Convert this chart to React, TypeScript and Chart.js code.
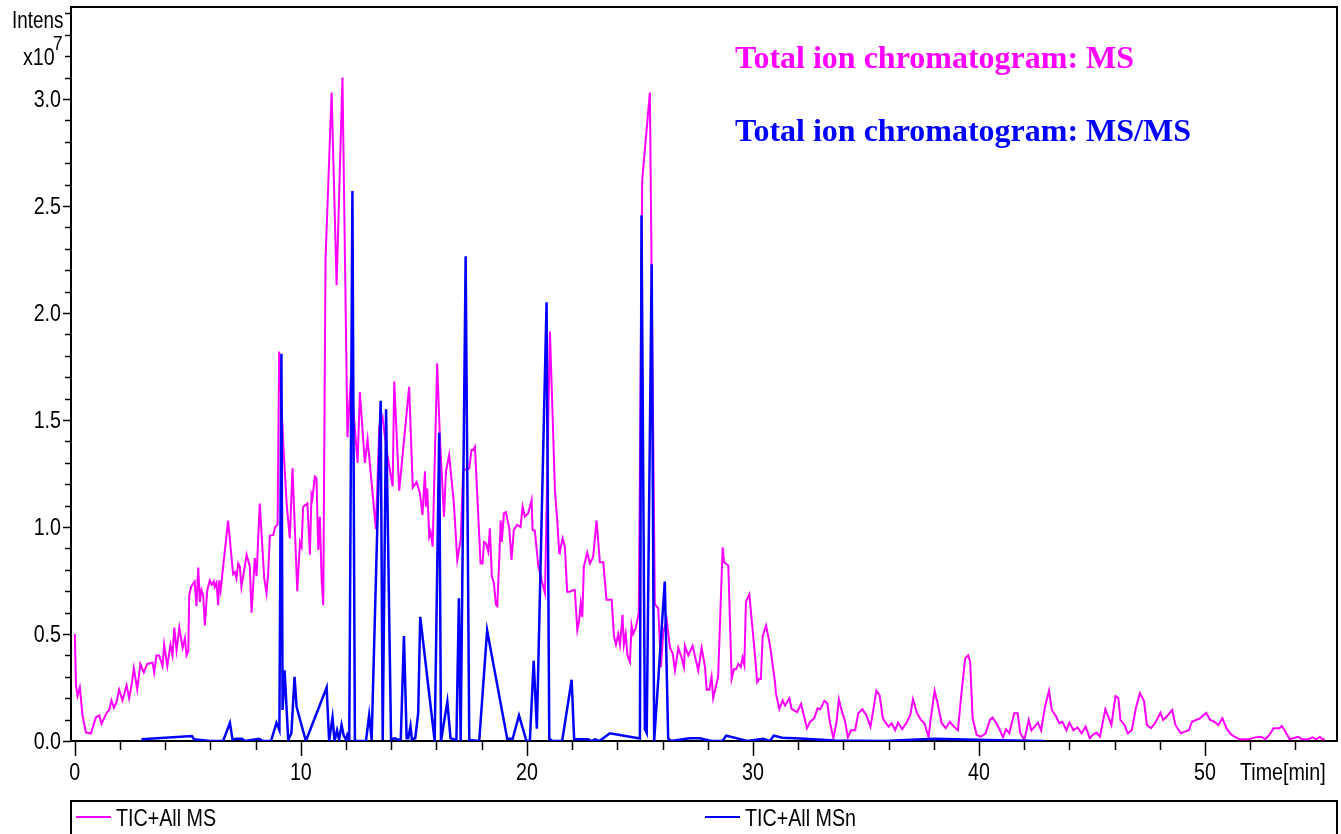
import React, { useEffect, useRef } from "react";
import { Chart, registerables } from "chart.js";

Chart.register(...registerables);

// ---- tick labels / texts ----
const X_MAJOR = [0, 10, 20, 30, 40, 50];
const Y_MAJOR = [0, 0.5, 1.0, 1.5, 2.0, 2.5, 3.0];
const SERIES_LABELS = ["TIC+All MS", "TIC+All MSn"];
const TITLES = ["Total ion chromatogram: MS", "Total ion chromatogram: MS/MS"];
const Y_LABEL = "Intens";
const Y_EXP_BASE = "x10";
const Y_EXP = "7";
const X_LABEL = "Time[min]";

// ---- series: [time (min), intensity (x10^7)] ----
const TIC_MS: [number, number][] = [
  [0.0, 0.5], [0.05, 0.26], [0.12, 0.21], [0.22, 0.25], [0.34, 0.12], [0.49, 0.04], [0.71, 0.035],
  [0.93, 0.11], [1.08, 0.12], [1.18, 0.08], [1.4, 0.13], [1.52, 0.145], [1.62, 0.19], [1.73, 0.155],
  [1.84, 0.18], [1.96, 0.24], [2.11, 0.19], [2.29, 0.26], [2.4, 0.2], [2.51, 0.26], [2.61, 0.34],
  [2.76, 0.24], [2.9, 0.36], [3.05, 0.32], [3.2, 0.36], [3.44, 0.366], [3.51, 0.32], [3.61, 0.4],
  [3.73, 0.4], [3.88, 0.35], [3.95, 0.45], [4.09, 0.35], [4.23, 0.45], [4.32, 0.4], [4.4, 0.53],
  [4.5, 0.425], [4.62, 0.53], [4.77, 0.435], [4.87, 0.48], [4.94, 0.4], [5.02, 0.42], [5.06, 0.68],
  [5.14, 0.72], [5.3, 0.745], [5.38, 0.63], [5.46, 0.81], [5.53, 0.65], [5.6, 0.705], [5.68, 0.68],
  [5.75, 0.54], [5.86, 0.705], [5.97, 0.75], [6.06, 0.73], [6.15, 0.745], [6.19, 0.72], [6.27, 0.74],
  [6.34, 0.635], [6.39, 0.75], [6.45, 0.705], [6.78, 1.03], [7.0, 0.78], [7.08, 0.79], [7.15, 0.76],
  [7.23, 0.83], [7.3, 0.815], [7.37, 0.72], [7.6, 0.87], [7.74, 0.815], [7.82, 0.6], [7.96, 0.855],
  [8.04, 0.77], [8.18, 1.11], [8.38, 0.76], [8.48, 0.69], [8.55, 0.78], [8.63, 0.96], [8.78, 0.963],
  [8.86, 1.0], [8.97, 1.01], [9.04, 1.82], [9.22, 1.39], [9.37, 1.11], [9.51, 0.947], [9.63, 1.274],
  [9.84, 0.7], [9.96, 0.93], [10.03, 0.908], [10.1, 1.095], [10.29, 1.11], [10.4, 0.87], [10.47, 1.15],
  [10.51, 1.134], [10.62, 1.235], [10.69, 1.228], [10.77, 0.893], [10.84, 1.048], [10.92, 0.75],
  [10.99, 0.635], [11.09, 2.25], [11.36, 3.03], [11.58, 2.13], [11.84, 3.1], [12.06, 1.42],
  [12.21, 1.695], [12.51, 1.3], [12.61, 1.63], [12.83, 1.3], [12.95, 1.41], [13.32, 0.99],
  [13.47, 1.47], [13.61, 1.515], [13.79, 1.36], [14.06, 1.19], [14.13, 1.68], [14.35, 1.17],
  [14.79, 1.655], [14.95, 1.185], [15.12, 1.21], [15.27, 1.157], [15.38, 1.056], [15.49, 1.26],
  [15.53, 1.095], [15.59, 1.18], [15.68, 0.955], [15.74, 0.978], [15.83, 0.908], [16.03, 1.765],
  [16.15, 1.42], [16.33, 1.048], [16.42, 1.26], [16.56, 1.336], [16.77, 1.11], [16.92, 0.846],
  [17.07, 0.94], [17.18, 1.266], [17.45, 1.274], [17.55, 1.36], [17.62, 1.36], [17.7, 1.375],
  [17.95, 0.83], [18.04, 0.83], [18.1, 0.93], [18.19, 0.924], [18.29, 0.885], [18.36, 0.994],
  [18.45, 0.768], [18.54, 0.737], [18.63, 0.636], [18.69, 0.63], [18.78, 0.86], [18.84, 1.03],
  [18.89, 0.93], [18.98, 1.064], [19.07, 1.07], [19.22, 0.994], [19.32, 0.846], [19.42, 0.986],
  [19.57, 1.01], [19.72, 1.0], [19.81, 1.095], [19.91, 1.048], [20.06, 1.064], [20.21, 1.126],
  [20.25, 0.986], [20.35, 0.983], [20.5, 0.822], [20.65, 0.752], [20.8, 0.69], [21.02, 1.913],
  [21.24, 1.173], [21.34, 1.033], [21.43, 0.877], [21.46, 0.885], [21.58, 0.947], [21.68, 0.908],
  [21.78, 0.698], [21.9, 0.698], [22.02, 0.705], [22.12, 0.705], [22.23, 0.519], [22.31, 0.56],
  [22.38, 0.643], [22.45, 0.58], [22.52, 0.815], [22.67, 0.88], [22.79, 0.83], [22.93, 0.86],
  [23.08, 1.03], [23.23, 0.835], [23.38, 0.835], [23.52, 0.66], [23.75, 0.66], [23.85, 0.49],
  [23.94, 0.45], [24.04, 0.5], [24.12, 0.45], [24.23, 0.59], [24.29, 0.45], [24.37, 0.5],
  [24.45, 0.4], [24.56, 0.37], [24.63, 0.54], [24.7, 0.5], [24.82, 0.53], [24.95, 0.6],
  [25.1, 2.62], [25.44, 3.03], [25.66, 0.64], [25.81, 0.62], [25.93, 0.345], [26.03, 0.505],
  [26.18, 0.57], [26.33, 0.435], [26.45, 0.41], [26.55, 0.33], [26.7, 0.435], [26.84, 0.39],
  [26.95, 0.345], [26.99, 0.445], [27.14, 0.4], [27.33, 0.445], [27.58, 0.33], [27.73, 0.435],
  [27.88, 0.345], [27.95, 0.24], [28.07, 0.24], [28.17, 0.3], [28.24, 0.2], [28.36, 0.255],
  [28.46, 0.3], [28.66, 0.905], [28.72, 0.835], [28.91, 0.82], [29.06, 0.29], [29.16, 0.335],
  [29.25, 0.335], [29.35, 0.36], [29.46, 0.345], [29.54, 0.39], [29.62, 0.355], [29.69, 0.65],
  [29.84, 0.685], [30.04, 0.46], [30.19, 0.275], [30.28, 0.29], [30.35, 0.29], [30.43, 0.49],
  [30.58, 0.54], [30.75, 0.45], [30.97, 0.28], [31.02, 0.22], [31.17, 0.15], [31.31, 0.19],
  [31.42, 0.165], [31.61, 0.2], [31.71, 0.15], [31.95, 0.135], [32.13, 0.173], [32.39, 0.06],
  [32.53, 0.09], [32.71, 0.106], [32.86, 0.153], [32.98, 0.148], [33.16, 0.188], [33.29, 0.176],
  [33.4, 0.09], [33.56, 0.013], [33.7, 0.09], [33.8, 0.195], [33.94, 0.137], [34.07, 0.095],
  [34.2, 0.017], [34.34, 0.05], [34.52, 0.05], [34.66, 0.13], [34.84, 0.148], [35.02, 0.12],
  [35.2, 0.067], [35.33, 0.148], [35.46, 0.235], [35.6, 0.215], [35.75, 0.106], [35.87, 0.086],
  [36.0, 0.067], [36.14, 0.083], [36.29, 0.05], [36.42, 0.086], [36.6, 0.055], [36.78, 0.083],
  [36.96, 0.12], [37.08, 0.195], [37.26, 0.13], [37.44, 0.098], [37.59, 0.083], [37.77, 0.017],
  [37.86, 0.098], [38.04, 0.235], [38.17, 0.176], [38.35, 0.083], [38.53, 0.06], [38.71, 0.09],
  [38.89, 0.067], [39.07, 0.05], [39.21, 0.207], [39.39, 0.386], [39.52, 0.4], [39.61, 0.37],
  [39.72, 0.106], [39.9, 0.028], [40.08, 0.02], [40.3, 0.036], [40.48, 0.098], [40.6, 0.11],
  [40.75, 0.086], [40.93, 0.05], [41.06, 0.017], [41.2, 0.055], [41.34, 0.036], [41.56, 0.13],
  [41.71, 0.13], [41.83, 0.036], [42.01, 0.005], [42.2, 0.098], [42.32, 0.05], [42.46, 0.067],
  [42.61, 0.086], [42.75, 0.05], [42.92, 0.16], [43.1, 0.235], [43.22, 0.145], [43.4, 0.117],
  [43.55, 0.083], [43.69, 0.09], [43.87, 0.05], [44.0, 0.086], [44.18, 0.05], [44.36, 0.064],
  [44.54, 0.036], [44.72, 0.067], [44.9, 0.013], [45.03, 0.028], [45.2, 0.039], [45.35, 0.02],
  [45.59, 0.148], [45.72, 0.114], [45.86, 0.075], [46.04, 0.21], [46.17, 0.2], [46.26, 0.098],
  [46.44, 0.075], [46.58, 0.036], [46.76, 0.05], [46.94, 0.153], [47.12, 0.223], [47.3, 0.188],
  [47.43, 0.075], [47.61, 0.06], [47.79, 0.083], [48.03, 0.132], [48.15, 0.098], [48.33, 0.117],
  [48.55, 0.145], [48.69, 0.075], [48.93, 0.036], [49.11, 0.044], [49.29, 0.05], [49.42, 0.09],
  [49.6, 0.098], [49.78, 0.106], [50.05, 0.132], [50.23, 0.098], [50.41, 0.09], [50.59, 0.075],
  [50.77, 0.106], [50.95, 0.06], [51.13, 0.033], [51.31, 0.02], [51.53, 0.008], [51.95, 0.008],
  [52.21, 0.017], [52.49, 0.02], [52.67, 0.008], [52.85, 0.028], [53.03, 0.06], [53.3, 0.06],
  [53.39, 0.07], [53.52, 0.05], [53.75, 0.008], [54.12, 0.02], [54.3, 0.008], [54.57, 0.008],
  [54.75, 0.017], [54.93, 0.008], [55.08, 0.02], [55.2, 0.008], [55.3, 0.008],
];

const TIC_MSN: [number, number][] = [
  [2.95, 0.008], [5.18, 0.023], [5.27, 0.008], [5.97, 0.0], [6.56, 0.0], [6.86, 0.085], [6.98, 0.005],
  [7.12, 0.01], [7.4, 0.01], [7.52, 0.0], [8.15, 0.01], [8.33, 0.0], [8.68, 0.0], [8.92, 0.085],
  [9.05, 0.05], [9.14, 1.81], [9.19, 0.145], [9.28, 0.33], [9.44, 0.005], [9.58, 0.036], [9.72, 0.3],
  [9.81, 0.16], [10.22, 0.0], [11.14, 0.25], [11.25, 0.0], [11.4, 0.11], [11.49, 0.0], [11.6, 0.05],
  [11.69, 0.005], [11.8, 0.075], [11.9, 0.023], [11.99, 0.008], [12.05, 0.028], [12.14, 0.0],
  [12.28, 2.57], [12.39, 0.0], [12.88, 0.0], [13.02, 0.12], [13.13, 0.005], [13.53, 1.59],
  [13.62, 0.005], [13.77, 1.55], [13.99, 0.008], [14.16, 0.013], [14.31, 0.005], [14.42, 0.008],
  [14.56, 0.49], [14.68, 0.013], [14.75, 0.013], [14.85, 0.07], [14.91, 0.008], [15.06, 0.013],
  [15.19, 0.13], [15.28, 0.58], [15.92, 0.0], [16.12, 1.44], [16.2, 0.0], [16.48, 0.184],
  [16.62, 0.013], [16.8, 0.006], [16.88, 0.0], [16.99, 0.667], [17.07, 0.0], [17.29, 2.265],
  [17.45, 0.005], [17.89, 0.0], [18.24, 0.517], [19.13, 0.01], [19.37, 0.01], [19.65, 0.12],
  [19.98, 0.0], [20.13, 0.0], [20.3, 0.375], [20.44, 0.057], [20.87, 2.05], [20.99, 0.01],
  [21.14, 0.0], [21.56, 0.0], [21.98, 0.286], [22.09, 0.008], [22.71, 0.008], [22.86, 0.0],
  [23.01, 0.008], [23.21, 0.0], [23.67, 0.036], [25.0, 0.012], [25.07, 2.457], [25.22, 0.055],
  [25.3, 0.037], [25.52, 2.228], [25.63, 0.0], [26.1, 0.745], [26.25, 0.012], [26.37, 0.0],
  [27.21, 0.013], [27.65, 0.013], [28.17, 0.0], [28.65, 0.0], [28.82, 0.025], [29.75, 0.0],
  [30.45, 0.01], [30.75, 0.0], [30.92, 0.025], [31.3, 0.015], [32.08, 0.012], [33.6, 0.002],
  [35.78, 0.0], [38.04, 0.011], [40.3, 0.005], [42.9, 0.0],
];

const MAGENTA = "#ff00ff";
const BLUE = "#0000ff";
const SANS = "'Liberation Sans', Arial, sans-serif";
const SERIF = "'Liberation Serif', 'Times New Roman', serif";
const SQUEEZE = 0.82;

// text drawn horizontally condensed (the reference uses a narrow sans)
function narrowText(ctx: CanvasRenderingContext2D, text: string, x: number, y: number, size: number, align: CanvasTextAlign, baseline: CanvasTextBaseline) {
  ctx.save();
  ctx.translate(x, y);
  ctx.scale(SQUEEZE, 1);
  ctx.font = `${size}px ${SANS}`;
  ctx.textAlign = align;
  ctx.textBaseline = baseline;
  ctx.fillText(text, 0, 0);
  ctx.restore();
}

const decorPlugin = {
  id: "decor",
  afterDraw(chart: any) {
    const { ctx, chartArea: a, scales } = chart;
    const x = scales.x;
    const y = scales.y;
    ctx.save();
    ctx.strokeStyle = "#000";
    ctx.lineWidth = 2;
    // frame: top and right
    ctx.beginPath();
    ctx.moveTo(a.left, a.top);
    ctx.lineTo(a.right, a.top);
    ctx.lineTo(a.right, a.bottom);
    ctx.stroke();

    // x ticks (every 2 min, long at 10)
    ctx.lineWidth = 1.5;
    for (let k = 0; 2 * k <= x.max; k++) {
      const v = 2 * k;
      const px = Math.round(x.getPixelForValue(v)) + 0.5;
      const len = v % 10 === 0 ? 15 : 9;
      ctx.beginPath();
      ctx.moveTo(px, a.bottom);
      ctx.lineTo(px, a.bottom + len);
      ctx.stroke();
    }
    // y ticks (every 0.1)
    for (let i = 0; i / 10 <= y.max; i++) {
      const py = Math.round(y.getPixelForValue(i / 10)) + 0.5;
      const len = i % 5 === 0 ? 8 : 6;
      ctx.beginPath();
      ctx.moveTo(a.left - len, py);
      ctx.lineTo(a.left, py);
      ctx.stroke();
    }

    ctx.fillStyle = "#000";
    // x tick labels
    for (const v of X_MAJOR) {
      narrowText(ctx, String(v), x.getPixelForValue(v), 780, 24, "center", "alphabetic");
    }
    // y tick labels
    for (const v of Y_MAJOR) {
      narrowText(ctx, v.toFixed(1), a.left - 10, y.getPixelForValue(v) + 1, 24, "right", "middle");
    }

    // axis captions
    narrowText(ctx, Y_LABEL, 12, 28, 23, "left", "alphabetic");
    narrowText(ctx, Y_EXP_BASE, 23, 65, 24, "left", "alphabetic");
    narrowText(ctx, Y_EXP, 53, 50, 21, "left", "alphabetic");
    narrowText(ctx, X_LABEL, 1240, 780, 24, "left", "alphabetic");

    // titles
    ctx.textAlign = "left";
    ctx.textBaseline = "alphabetic";
    ctx.font = `bold 32px ${SERIF}`;
    ctx.fillStyle = MAGENTA;
    ctx.fillText(TITLES[0], 735, 68);
    ctx.fillStyle = BLUE;
    ctx.fillText(TITLES[1], 735, 141);

    // legend box
    ctx.strokeStyle = "#000";
    ctx.lineWidth = 2;
    ctx.strokeRect(a.left, 801, a.right - a.left, 60);
    const items = [
      { x0: 76, x1: 111, tx: 116, color: MAGENTA, label: SERIES_LABELS[0] },
      { x0: 705, x1: 740, tx: 745, color: BLUE, label: SERIES_LABELS[1] },
    ];
    for (const it of items) {
      ctx.strokeStyle = it.color;
      ctx.lineWidth = 2;
      ctx.beginPath();
      ctx.moveTo(it.x0, 817);
      ctx.lineTo(it.x1, 817);
      ctx.stroke();
      ctx.fillStyle = "#000";
      narrowText(ctx, it.label, it.tx, 826, 24, "left", "alphabetic");
    }
    ctx.restore();
  },
};

export default function App() {
  const ref = useRef<HTMLCanvasElement | null>(null);

  useEffect(() => {
    if (!ref.current) return;
    const chart = new Chart(ref.current, {
      type: "line",
      data: {
        datasets: [
          {
            label: SERIES_LABELS[0],
            data: TIC_MS.map(([t, v]) => ({ x: t, y: v })),
            borderColor: MAGENTA,
            borderWidth: 2,
            pointRadius: 0,
            tension: 0,
            order: 1,
          },
          {
            label: SERIES_LABELS[1],
            data: TIC_MSN.map(([t, v]) => ({ x: t, y: v })),
            borderColor: BLUE,
            borderWidth: 2.5,
            pointRadius: 0,
            tension: 0,
            order: 0,
          },
        ],
      },
      options: {
        animation: false,
        responsive: true,
        maintainAspectRatio: false,
        layout: { autoPadding: false, padding: { top: 7, right: 4, left: 0, bottom: 0 } },
        plugins: { legend: { display: false }, tooltip: { enabled: false } },
        scales: {
          x: {
            type: "linear",
            min: -0.17,
            max: 55.84,
            grid: { display: false, drawTicks: false },
            border: { display: true, color: "#000", width: 2 },
            afterBuildTicks: (s: any) => {
              s.ticks = X_MAJOR.map((v) => ({ value: v }));
            },
            afterFit: (s: any) => {
              s.height = 93;
            },
            ticks: { display: false },
          },
          y: {
            type: "linear",
            min: 0,
            max: 3.43,
            grid: { display: false, drawTicks: false },
            border: { display: true, color: "#000", width: 2 },
            afterBuildTicks: (s: any) => {
              s.ticks = Y_MAJOR.map((v) => ({ value: v }));
            },
            afterFit: (s: any) => {
              s.width = 71;
            },
            ticks: { display: false },
          },
        },
      },
      plugins: [decorPlugin],
    });
    return () => chart.destroy();
  }, []);

  return (
    <div style={{ position: "fixed", left: 0, top: 0, width: 1341, height: 834, background: "#fff" }}>
      <canvas ref={ref} />
    </div>
  );
}
